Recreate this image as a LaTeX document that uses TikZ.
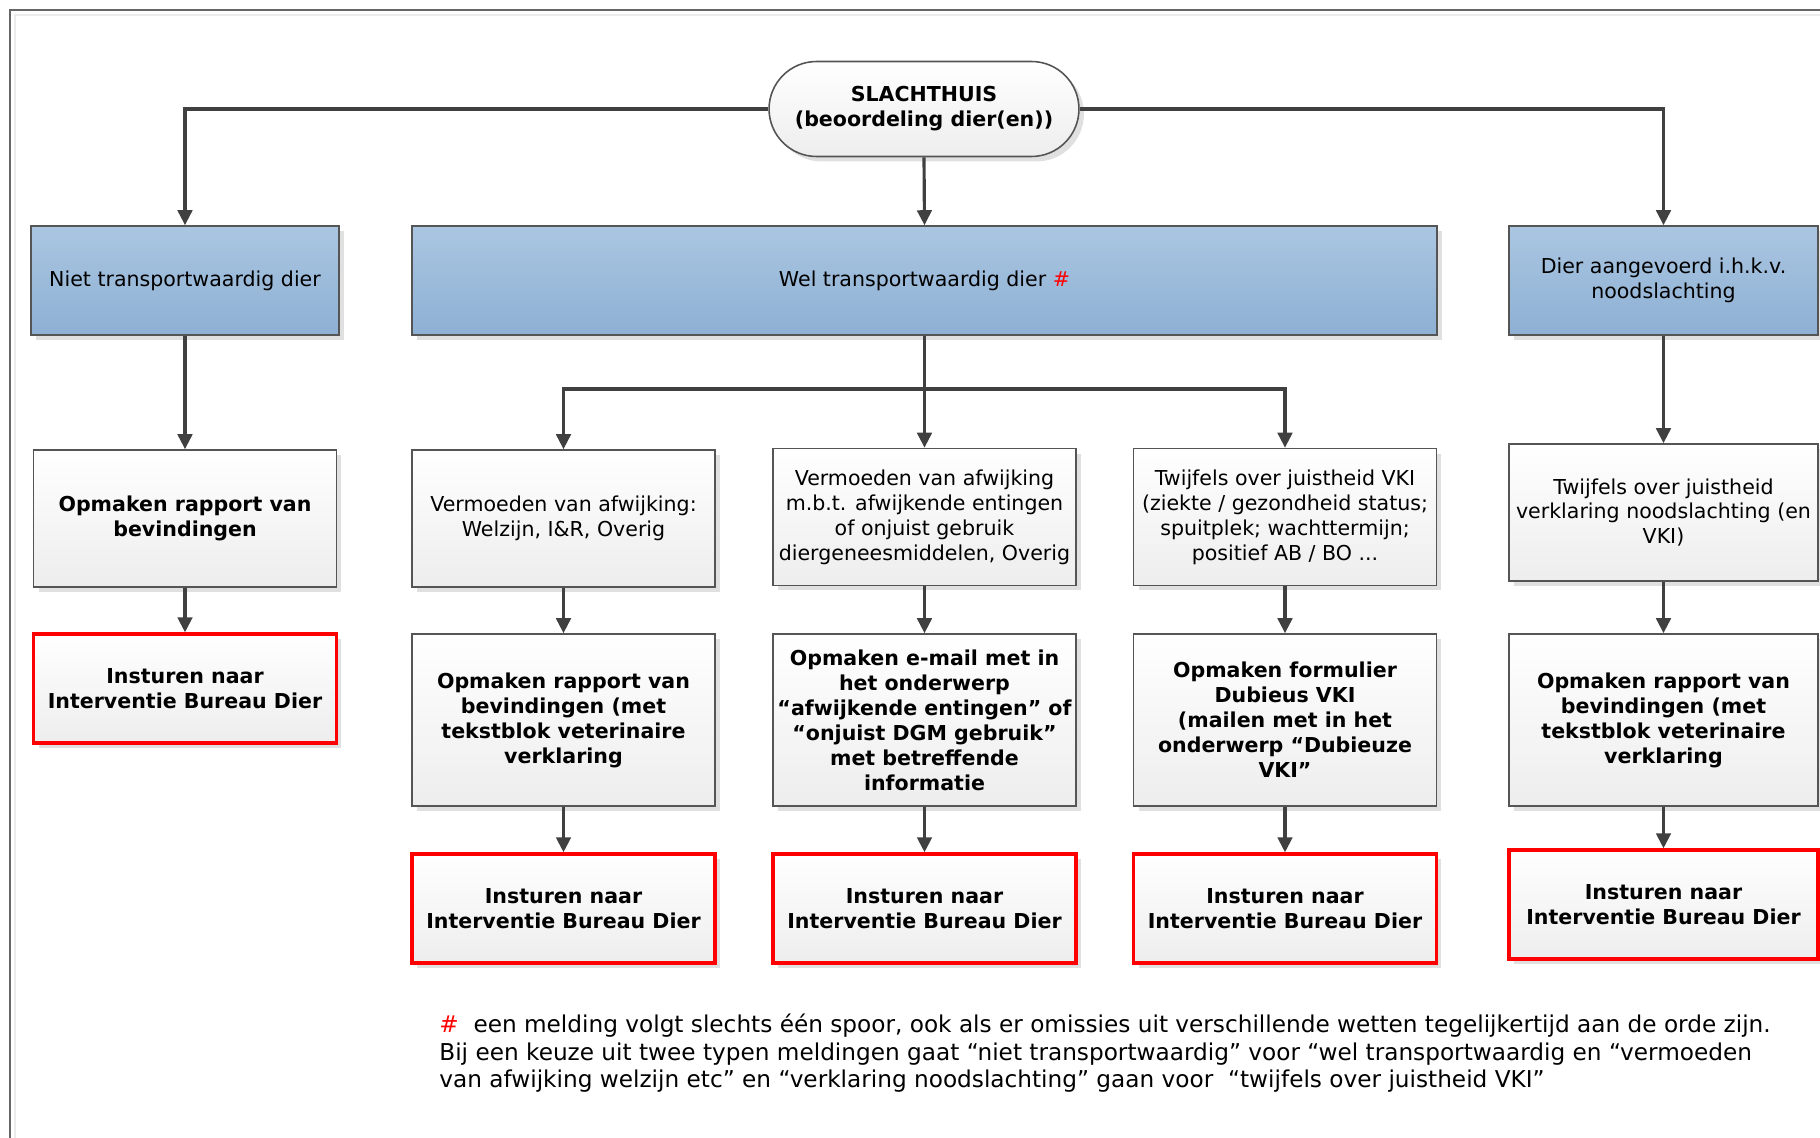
\documentclass[tikz,border=0pt]{standalone}
\usepackage{fontspec}
\setmainfont{DejaVu Sans}
\usetikzlibrary{arrows.meta,shadows,shapes.misc}
\definecolor{bluetop}{RGB}{170,198,225}
\definecolor{bluebot}{RGB}{142,176,212}
\definecolor{boxline}{RGB}{85,85,85}
\definecolor{arrline}{RGB}{64,64,64}
\newcommand\diafont{\fontsize{11.7}{14.2}\selectfont}
\begin{document}
\begin{tikzpicture}
        [x=0.02cm,y=-0.02cm,
         every node/.style={align=center, inner sep=2pt, font=\diafont},
         shadowed/.style={drop shadow={shadow xshift=0.1cm, shadow yshift=-0.1cm, fill=black!12, opacity=1}},
         pill/.style={rounded rectangle, draw=boxline, line width=0.9pt, top color=white, bottom color=black!7,
                      minimum width=6.34cm, minimum height=1.9cm, font=\diafont\bfseries, shadowed},
         bluebox/.style={draw=boxline, line width=0.9pt, top color=bluetop, bottom color=bluebot,
                         minimum height=2.18cm, shadowed},
         greybox/.style={draw=boxline, line width=0.9pt, top color=white, bottom color=black!7,
                         minimum width=6.06cm, minimum height=2.74cm, shadowed},
         tallbox/.style={greybox, minimum height=3.44cm, font=\diafont\bfseries},
         redbox/.style={greybox, draw=red, line width=1.9pt, minimum height=2.18cm, font=\diafont\bfseries},
         arr/.style={draw=arrline, line width=1.8pt, -{Triangle[length=0.3cm,width=0.29cm]}}]
      \useasboundingbox (0,0) rectangle (1820,1138);
      % frame
      \draw[black!8, line width=1.2pt] (15,1138) |- (1820,15);
      \draw[black!60, line width=0.8pt] (10,1138) |- (1820,10);

      \node[pill] (huis) at (924,109) {SLACHTHUIS\\(beoordeling dier(en))};

      \node[bluebox, minimum width=6.16cm] (niet) at (185,280.5) {Niet transportwaardig dier};
      \node[bluebox, minimum width=20.5cm] (wel) at (924.5,280.5) {Wel transportwaardig dier \textcolor{red}{\#}};
      \node[bluebox, minimum width=6.18cm] (noods) at (1663.5,280.5) {Dier aangevoerd i.h.k.v.\\noodslachting};

      \node[greybox, font=\diafont\bfseries] (rap1) at (185,518.5) {Opmaken rapport van\\bevindingen};
      \node[greybox] (afw1) at (563.5,518.5) {Vermoeden van afwijking:\\Welzijn, I\&R, Overig};
      \node[greybox] (afw2) at (924.5,517) {Vermoeden van afwijking\\m.b.t. afwijkende entingen\\of onjuist gebruik\\diergeneesmiddelen, Overig};
      \node[greybox] (vki1) at (1285,517) {Twijfels over juistheid VKI\\(ziekte / gezondheid status;\\spuitplek; wachttermijn;\\positief AB / BO ...};
      \node[greybox, minimum width=6.18cm] (vki2) at (1663.5,512.5) {Twijfels over juistheid\\verklaring noodslachting (en\\VKI)};

      \node[redbox] (ibd1) at (185,688.5) {Insturen naar\\Interventie Bureau Dier};
      \node[tallbox] (rap2) at (563.5,720) {Opmaken rapport van\\bevindingen (met\\tekstblok veterinaire\\verklaring};
      \node[tallbox] (mail) at (924.5,720) {Opmaken e-mail met in\\het onderwerp\\“afwijkende entingen” of\\“onjuist DGM gebruik”\\met betreffende\\informatie};
      \node[tallbox] (form) at (1285,720) {Opmaken formulier\\Dubieus VKI\\(mailen met in het\\onderwerp “Dubieuze\\VKI”};
      \node[tallbox, minimum width=6.18cm] (rap3) at (1663.5,720) {Opmaken rapport van\\bevindingen (met\\tekstblok veterinaire\\verklaring};

      \node[redbox] (ibd2) at (563.5,908.5) {Insturen naar\\Interventie Bureau Dier};
      \node[redbox] (ibd3) at (924.5,908.5) {Insturen naar\\Interventie Bureau Dier};
      \node[redbox] (ibd4) at (1285,908.5) {Insturen naar\\Interventie Bureau Dier};
      \node[redbox, minimum width=6.18cm] (ibd5) at (1663.5,904.5) {Insturen naar\\Interventie Bureau Dier};

      \coordinate (split) at (924.5,389);

      \draw[arr] (huis.west) -| (niet.north);
      \draw[arr] (huis.east) -| (noods.north);
      \draw[arr] (huis.south) -- (wel.north);
      \draw[arr] (wel.south) -- (afw2.north);
      \draw[arr] (split) -| (afw1.north);
      \draw[arr] (split) -| (vki1.north);
      \foreach \from/\to in {niet/rap1, rap1/ibd1, afw1/rap2, rap2/ibd2, afw2/mail, mail/ibd3,
                             vki1/form, form/ibd4, noods/vki2, vki2/rap3, rap3/ibd5}
        \draw[arr] (\from.south) -- (\to.north);

      \node[anchor=north west, align=left, inner sep=0pt, font=\fontsize{13.2}{15.6}\selectfont] (note) at (439,1014)
        {\textcolor{red}{\#}\ \ een melding volgt slechts één spoor, ook als er omissies uit verschillende wetten tegelijkertijd aan de orde zijn.\\
         Bij een keuze uit twee typen meldingen gaat “niet transportwaardig” voor “wel transportwaardig en “vermoeden\\
         van afwijking welzijn etc” en “verklaring noodslachting” gaan voor \ “twijfels over juistheid VKI”};
    \end{tikzpicture}
\end{document}
